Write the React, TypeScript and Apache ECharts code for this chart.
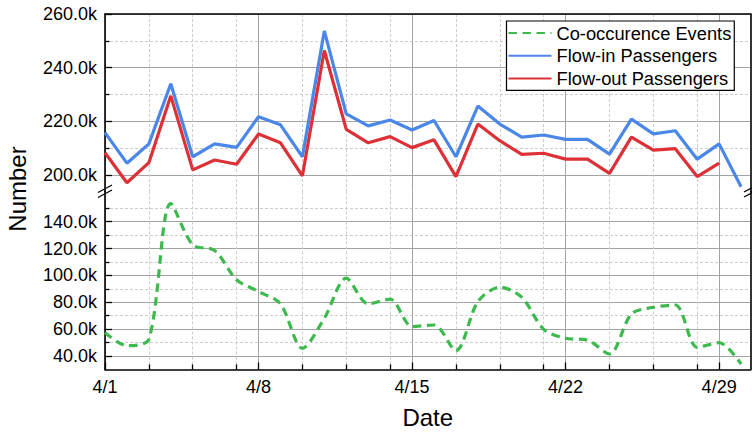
import React, { useEffect, useRef } from "react";
import * as echarts from "echarts";

// Day of April for each observation
const days = [1, 2, 3, 4, 5, 6, 7, 8, 9, 10, 11, 12, 13, 14, 15, 16, 17, 18, 19, 20, 21, 22, 23, 24, 25, 26, 27, 28, 29, 30];

// Values in thousands
const coOccurrenceEvents = [57.4, 47.7, 52.5, 153.5, 122.8, 118.6, 96.8, 88.0, 78.8, 45.7, 68.1, 98.0, 78.8, 82.3, 61.9, 63.1, 44.0, 80.5, 91.3, 83.8, 59.9, 53.2, 51.9, 41.5, 71.3, 76.3, 78.0, 46.5, 49.9, 34.0];
const flowInPassengers = [215.8, 204.4, 211.6, 234.0, 206.8, 211.6, 210.3, 221.7, 218.7, 206.8, 253.7, 222.8, 218.3, 220.5, 216.8, 220.3, 206.8, 225.7, 219.0, 214.1, 214.9, 213.3, 213.3, 207.8, 220.8, 215.3, 216.5, 205.9, 211.6, 195.6];
const flowOutPassengers: (number | null)[] = [208.3, 197.1, 204.6, 229.5, 201.9, 205.6, 204.0, 215.3, 212.0, 199.7, 246.4, 217.0, 212.0, 214.3, 210.2, 213.1, 199.4, 219.0, 212.8, 207.7, 208.1, 205.9, 205.9, 200.6, 214.1, 209.3, 209.8, 199.4, 204.4, null];

// Axis ticks
const xMajorDays = [1, 8, 15, 22, 29];
const xMinorDays = [3, 5, 7, 10, 12, 14, 17, 19, 21, 24, 26, 28];
const upperMajorTicks = [200000, 220000, 240000, 260000];
const upperMinorTicks = [210000, 230000, 250000];
const lowerMajorTicks = [40000, 60000, 80000, 100000, 120000, 140000];
const lowerMinorTicks = [50000, 70000, 90000, 110000, 130000, 150000];

const seriesNames = ["Co-occurence Events", "Flow-in Passengers", "Flow-out Passengers"];
const colors = { green: "#3dba4e", blue: "#4a87e8", red: "#dd3137" };

const FONT = "'Liberation Sans', Arial, Helvetica, sans-serif";
const X_MIN = 1;
const X_MAX = 30.43;
const UPPER_RANGE = [193850, 260000];
const LOWER_RANGE = [30000, 162500];

const toPairs = (vals: (number | null)[]) =>
  days.map((d, i) => [d, vals[i] == null ? null : (vals[i] as number) * 1000]);

const kLabel = (v: number) => `${(v / 1000).toFixed(1)}k`;

const majorSplit = { show: true, lineStyle: { color: "#a3a3a3", width: 1, type: "solid" as const } };
const minorSplit = { show: true, lineStyle: { color: "#cdcdcd", width: 1, type: [3, 2] as any } };
const blackLine = { show: true, lineStyle: { color: "#000", width: 1.6 } };
const tickStyle = { color: "#000", width: 1.3 };

export default function App() {
  const ref = useRef<HTMLDivElement>(null);

  useEffect(() => {
    document.body.style.margin = "0";
    if (!ref.current) return;
    const chart = echarts.init(ref.current, undefined, { renderer: "svg" });

    const xBase = (grid: number) => ({ type: "value" as const, gridIndex: grid, min: X_MIN, max: X_MAX });
    const yBase = (grid: number, range: number[], position: "left" | "right") => ({
      type: "value" as const, gridIndex: grid, position, min: range[0], max: range[1],
    });

    const option: any = {
      animation: false,
      backgroundColor: "#fff",
      textStyle: { fontFamily: FONT, color: "#000" },
      grid: [
        { left: 105, right: 1.5, top: 14, height: 177.5 },
        { left: 105, right: 1.5, top: 191.5, height: 177.95 },
      ],
      xAxis: [
        {
          ...xBase(0), position: "top",
          axisLine: blackLine,
          axisTick: { show: false, customValues: xMajorDays },
          axisLabel: { show: false },
          splitLine: majorSplit,
        },
        {
          ...xBase(0), position: "bottom",
          axisLine: { show: false },
          axisTick: { show: false, customValues: xMinorDays },
          axisLabel: { show: false },
          splitLine: minorSplit,
        },
        {
          ...xBase(1), position: "bottom",
          axisLine: blackLine,
          axisTick: { show: true, inside: true, length: 7, customValues: xMajorDays, lineStyle: tickStyle },
          axisLabel: { show: true, customValues: xMajorDays, formatter: (v: number) => `4/${v}`, fontSize: 18, color: "#000", margin: 9, fontFamily: FONT },
          splitLine: majorSplit,
          name: "Date", nameLocation: "middle", nameGap: 36,
          nameTextStyle: { fontSize: 24, color: "#000", fontFamily: FONT },
        },
        {
          ...xBase(1), position: "bottom",
          axisLine: { show: false },
          axisTick: { show: true, inside: true, length: 5, customValues: xMinorDays, lineStyle: tickStyle },
          axisLabel: { show: false },
          splitLine: minorSplit,
        },
      ],
      yAxis: [
        {
          ...yBase(0, UPPER_RANGE, "left"),
          axisLine: blackLine,
          axisTick: { show: true, inside: true, length: 7, customValues: upperMajorTicks, lineStyle: tickStyle },
          axisLabel: { show: true, customValues: upperMajorTicks, formatter: kLabel, fontSize: 18, color: "#000", margin: 8, fontFamily: FONT },
          splitLine: majorSplit,
        },
        {
          ...yBase(0, UPPER_RANGE, "left"),
          axisLine: { show: false },
          axisTick: { show: true, inside: true, length: 4.5, customValues: upperMinorTicks, lineStyle: tickStyle },
          axisLabel: { show: false },
          splitLine: minorSplit,
        },
        {
          ...yBase(0, UPPER_RANGE, "right"),
          axisLine: blackLine, axisTick: { show: false }, axisLabel: { show: false }, splitLine: { show: false },
        },
        {
          ...yBase(1, LOWER_RANGE, "left"),
          axisLine: blackLine,
          axisTick: { show: true, inside: true, length: 7, customValues: lowerMajorTicks, lineStyle: tickStyle },
          axisLabel: { show: true, customValues: lowerMajorTicks, formatter: kLabel, fontSize: 18, color: "#000", margin: 8, fontFamily: FONT },
          splitLine: majorSplit,
        },
        {
          ...yBase(1, LOWER_RANGE, "left"),
          axisLine: { show: false },
          axisTick: { show: true, inside: true, length: 4.5, customValues: lowerMinorTicks, lineStyle: tickStyle },
          axisLabel: { show: false },
          splitLine: minorSplit,
        },
        {
          ...yBase(1, LOWER_RANGE, "right"),
          axisLine: blackLine, axisTick: { show: false }, axisLabel: { show: false }, splitLine: { show: false },
        },
      ],
      legend: {
        data: seriesNames,
        orient: "vertical",
        left: 506.5,
        top: 21,
        padding: [3, 3, 3, 1],
        itemGap: 4.7,
        itemWidth: 43,
        itemHeight: 14,
        itemStyle: { opacity: 0 },
        backgroundColor: "#fff",
        borderColor: "#000",
        borderWidth: 1.2,
        borderRadius: 0,
        textStyle: { fontSize: 18.3, color: "#000", fontFamily: FONT },
      },
      series: [
        {
          name: seriesNames[0], type: "line", xAxisIndex: 2, yAxisIndex: 3,
          data: toPairs(coOccurrenceEvents), symbol: "none", smooth: 0.3,
          lineStyle: { color: colors.green, width: 3.2, type: [8.5, 5.5] },
          itemStyle: { color: colors.green },
        },
        {
          name: seriesNames[1], type: "line", xAxisIndex: 0, yAxisIndex: 0,
          data: toPairs(flowInPassengers), symbol: "none",
          lineStyle: { color: colors.blue, width: 3.2 },
          itemStyle: { color: colors.blue },
        },
        {
          name: seriesNames[2], type: "line", xAxisIndex: 0, yAxisIndex: 0,
          data: toPairs(flowOutPassengers), symbol: "none",
          lineStyle: { color: colors.red, width: 3.2 },
          itemStyle: { color: colors.red },
        },
      ],
      graphic: [
        // y-axis title, reading bottom-to-top
        {
          type: "text", x: 17, y: 189, rotation: Math.PI / 2,
          style: { text: "Number", font: `24px ${FONT}`, fill: "#000", align: "center", verticalAlign: "middle" },
        },
        // axis break marks on the left axis and the right frame
        { type: "line", shape: { x1: 98, y1: 192.5, x2: 112, y2: 185 }, style: { stroke: "#000", lineWidth: 1.2 } },
        { type: "line", shape: { x1: 98, y1: 197.5, x2: 112, y2: 190 }, style: { stroke: "#000", lineWidth: 1.2 } },
        { type: "line", shape: { x1: 744, y1: 192, x2: 758, y2: 184.5 }, style: { stroke: "#000", lineWidth: 1.2 } },
        { type: "line", shape: { x1: 744, y1: 197, x2: 758, y2: 189.5 }, style: { stroke: "#000", lineWidth: 1.2 } },
      ],
    };

    chart.setOption(option);
    return () => chart.dispose();
  }, []);

  return <div ref={ref} style={{ width: 752, height: 434 }} />;
}
